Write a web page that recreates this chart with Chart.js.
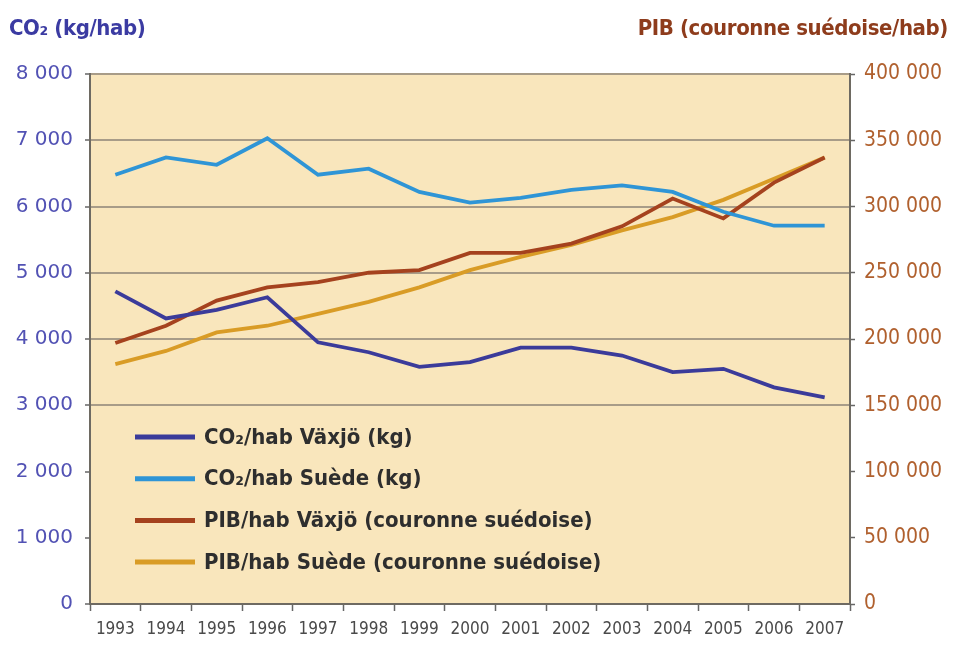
<!DOCTYPE html>
<html>
<head>
<meta charset="utf-8">
<script src="https://cdn.jsdelivr.net/npm/chart.js@4.4.1/dist/chart.umd.min.js"></script>
<style>
  html, body { margin: 0; padding: 0; background: #fff; }
  #wrap { position: relative; width: 954px; height: 646px; }
  #wrap canvas { position: absolute; left: 0; top: 0; }
  .ttl { position: absolute; top: 15px; font: bold 22px 'DejaVu Sans Condensed', sans-serif; letter-spacing: -0.4px; }
</style>
</head>
<body>
<div id="wrap">
  <canvas id="c" width="954" height="646"></canvas>
  <div class="ttl" style="left:9px;color:#3b3ba2">CO₂ (kg/hab)</div>
  <div class="ttl" style="right:6px;color:#8e3c1c">PIB (couronne suédoise/hab)</div>
</div>
<script>
// années
const years = ['1993','1994','1995','1996','1997','1998','1999','2000','2001','2002','2003','2004','2005','2006','2007'];

// CO2 par habitant (kg) - axe gauche
const co2Vaxjo = [4720, 4310, 4440, 4630, 3950, 3800, 3580, 3650, 3870, 3870, 3750, 3500, 3550, 3270, 3120];
const co2Suede = [6480, 6740, 6630, 7030, 6480, 6570, 6220, 6060, 6130, 6250, 6320, 6220, 5920, 5710, 5710];

// PIB par habitant (couronne suédoise) - axe droit
const pibVaxjo = [197000, 210000, 229000, 239000, 243000, 250000, 252000, 265000, 265000, 272000, 285000, 306000, 291000, 318000, 337000];
const pibSuede = [181000, 191000, 205000, 210000, 219000, 228000, 239000, 252000, 262000, 271000, 282000, 292000, 305000, 321000, 337000];

const labels = ['CO₂/hab Växjö (kg)', 'CO₂/hab Suède (kg)', 'PIB/hab Växjö (couronne suédoise)', 'PIB/hab Suède (couronne suédoise)'];
const colors = ['#3b3b9a', '#2f95d6', '#a5421e', '#d99c26'];

function fmt(v) {
  return String(v).replace(/\B(?=(\d{3})+(?!\d))/g, ' ');
}

// fond jaune de la zone de tracé
const plotBg = {
  id: 'plotBg',
  beforeDraw(chart) {
    const a = chart.chartArea, ctx = chart.ctx;
    ctx.save();
    ctx.fillStyle = '#f9e6bc';
    ctx.fillRect(a.left, a.top, a.right - a.left, a.bottom - a.top);
    ctx.restore();
  }
};

// légende dans la zone de tracé, en bas à gauche
const innerLegend = {
  id: 'innerLegend',
  afterDatasetsDraw(chart) {
    const a = chart.chartArea, ctx = chart.ctx;
    ctx.save();
    ctx.font = 'bold 22px "DejaVu Sans Condensed", sans-serif';
    ctx.textBaseline = 'middle';
    chart.data.datasets.forEach(function(ds, i) {
      const y = a.bottom - 167 + i * 41.7;
      ctx.strokeStyle = ds.borderColor;
      ctx.lineWidth = 5;
      ctx.beginPath();
      ctx.moveTo(a.left + 45, y);
      ctx.lineTo(a.left + 105, y);
      ctx.stroke();
      ctx.fillStyle = '#2e2e2e';
      ctx.fillText(ds.label, a.left + 114, y + 1);
    });
    ctx.restore();
  }
};

const mk = (i, data, axis) => ({
  label: labels[i], data: data, yAxisID: axis,
  borderColor: colors[i], backgroundColor: colors[i],
  borderWidth: 3.8, pointRadius: 0, tension: 0
});

new Chart(document.getElementById('c').getContext('2d'), {
  type: 'line',
  data: {
    labels: years,
    datasets: [
      mk(0, co2Vaxjo, 'y'),
      mk(1, co2Suede, 'y'),
      mk(2, pibVaxjo, 'y1'),
      mk(3, pibSuede, 'y1')
    ]
  },
  options: {
    responsive: false,
    animation: false,
    layout: { padding: { top: 74, left: 0, right: 0, bottom: 0 } },
    plugins: { legend: { display: false }, tooltip: { enabled: false } },
    scales: {
      x: {
        offset: true,
        afterFit: function(s) { s.height = 42; },
        grid: { offset: true, drawOnChartArea: false, tickLength: 7, tickColor: '#666', tickWidth: 1.5 },
        border: { color: '#6e6a62', width: 2 },
        ticks: { color: '#4a4a4a', padding: 8, maxRotation: 0, autoSkip: false, font: { family: 'DejaVu Sans Condensed', size: 17 } }
      },
      y: {
        position: 'left', min: 0, max: 8000,
        afterFit: function(s) { s.width = 90; },
        grid: {
          color: function(c) { return (c.tick && (c.tick.value === 1000 || c.tick.value === 2000)) ? 'rgba(0,0,0,0)' : '#a89c88'; },
          lineWidth: 2, tickLength: 5, tickColor: '#666', tickWidth: 1.5
        },
        border: { color: '#6e6a62', width: 2 },
        ticks: {
          stepSize: 1000, color: '#5252b4', padding: 12,
          font: { family: 'DejaVu Sans', size: 20 },
          callback: function(v) { return fmt(v); }
        }
      },
      y1: {
        position: 'right', min: 0, max: 400000,
        afterFit: function(s) { s.width = 104; },
        grid: { drawOnChartArea: false, tickLength: 5, tickColor: '#666', tickWidth: 1.5 },
        border: { color: '#6e6a62', width: 2 },
        ticks: {
          stepSize: 50000, color: '#b0602e', padding: 9,
          font: { family: 'DejaVu Sans Condensed', size: 21 },
          callback: function(v) { return fmt(v); }
        }
      }
    }
  },
  plugins: [plotBg, innerLegend]
});
</script>
</body>
</html>
